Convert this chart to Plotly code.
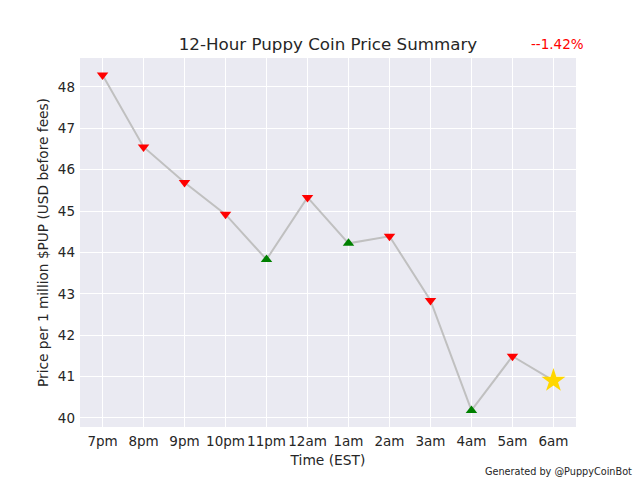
import plotly.graph_objects as go

hours = ["7pm", "8pm", "9pm", "10pm", "11pm", "12am", "1am", "2am", "3am", "4am", "5am", "6am"]
prices = [48.29, 46.55, 45.69, 44.92, 43.83, 45.33, 44.22, 44.39, 42.84, 40.18, 41.49, 40.90]
change_text = "--1.42%"

# marker style: direction of the next change; last point is a star
symbols, colors, sizes = [], [], []
for i, p in enumerate(prices):
    if i == len(prices) - 1:
        symbols.append("star"); colors.append("gold"); sizes.append(18)
    elif prices[i + 1] < p:
        symbols.append("triangle-down"); colors.append("#ff0000"); sizes.append(10)
    else:
        symbols.append("triangle-up"); colors.append("#008000"); sizes.append(10)

x_idx = list(range(len(hours)))
fig = go.Figure()
fig.add_trace(go.Scatter(x=x_idx, y=prices, mode="lines",
                         line=dict(color="#c0c0c0", width=2), hoverinfo="skip"))
fig.add_trace(go.Scatter(x=x_idx, y=prices, mode="markers",
                         marker=dict(symbol=symbols, color=colors, size=sizes, opacity=1,
                                     line=dict(width=0))))

fig.update_layout(
    width=640, height=480,
    margin=dict(l=80, r=64, t=58, b=53),
    paper_bgcolor="white", plot_bgcolor="#EAEAF2",
    showlegend=False,
    font=dict(family="DejaVu Sans", size=13, color="#262626"),
    title=dict(text="12-Hour Puppy Coin Price Summary", x=(80 + 248) / 640, xanchor="center",
               y=1 - 44 / 480, yanchor="middle", font=dict(size=16.7, color="#262626")),
)
fig.update_xaxes(range=[-0.55, 11.55], tickmode="array", tickvals=x_idx, ticktext=hours,
                 showgrid=True, gridcolor="white", gridwidth=1, zeroline=False,
                 tickfont=dict(size=13.5, color="#262626"),
                 title=dict(text="Time (EST)", standoff=7, font=dict(size=13.8, color="#262626")),
                 ticks="", ticklabelstandoff=4)
fig.update_yaxes(range=[39.78, 48.70], tickmode="array", tickvals=list(range(40, 49)),
                 showgrid=True, gridcolor="white", gridwidth=1, zeroline=False,
                 tickfont=dict(size=13.5, color="#262626"),
                 title=dict(text="Price per 1 million $PUP (USD before fees)", standoff=6,
                            font=dict(size=13.7, color="#262626")),
                 ticks="", ticklabelstandoff=4)

fig.add_annotation(text=change_text, xref="paper", yref="paper", x=(557 - 80) / 496,
                   y=(427 - 44) / 369, xanchor="center", yanchor="middle", showarrow=False,
                   font=dict(size=13.5, color="red"))
fig.add_annotation(text="Generated by @PuppyCoinBot", xref="paper", yref="paper",
                   x=(634 - 80) / 496, y=-(471 - 427) / 369, xanchor="right", yanchor="middle",
                   showarrow=False, font=dict(size=9.7, color="#262626"))

fig.write_html("out.html")
